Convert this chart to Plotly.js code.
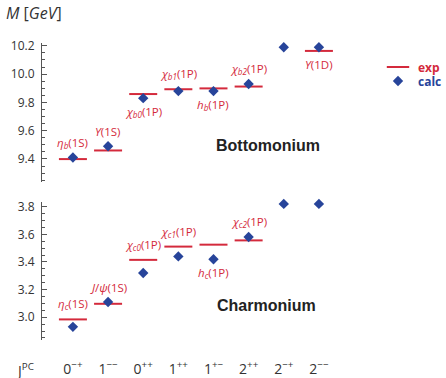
<!DOCTYPE html>
<html><head><meta charset="utf-8">
<script src="https://cdn.plot.ly/plotly-3.0.1.min.js"></script>
<style>html,body{margin:0;padding:0;background:#fff}</style></head>
<body><div id="chart" style="width:446px;height:378px"></div>
<script>
// ---- data ----
const jpcLabels = ["0<sup>−+</sup>","1<sup>−−</sup>","0<sup>++</sup>","1<sup>++</sup>","1<sup>+−</sup>","2<sup>++</sup>","2<sup>−+</sup>","2<sup>−−</sup>"];
const bottomExp  = [9.399, 9.460, 9.859, 9.893, 9.899, 9.912, null, 10.164];
const bottomCalc = [9.41, 9.49, 9.83, 9.88, 9.88, 9.93, 10.19, 10.19];
const bottomNames = ["<i>η<sub>b</sub></i>(1S)","<i>Υ</i>(1S)","<i>χ<sub>b0</sub></i>(1P)","<i>χ<sub>b1</sub></i>(1P)","<i>h<sub>b</sub></i>(1P)","<i>χ<sub>b2</sub></i>(1P)",null,"<i>Υ</i>(1D)"];
const bottomSide = ["above","above","below","above","below","above",null,"below"];
const charmExp  = [2.984, 3.097, 3.415, 3.511, 3.525, 3.556, null, null];
const charmCalc = [2.93, 3.11, 3.32, 3.44, 3.42, 3.58, 3.82, 3.82];
const charmNames = ["<i>η<sub>c</sub></i>(1S)","<i>J</i>/<i>ψ</i>(1S)","<i>χ<sub>c0</sub></i>(1P)","<i>χ<sub>c1</sub></i>(1P)","<i>h<sub>c</sub></i>(1P)","<i>χ<sub>c2</sub></i>(1P)",null,null];
const charmSide = ["above","above","above","above","below","above",null,null];

// ---- style ----
const RED = "#d42a3c", BLUE = "#27449a";
const FONT = "Open Sans, Noto Sans, sans-serif";
const xIdx = jpcLabels.map((_, i) => i);

function expTrace(vals, ya, show) {
  return {x: xIdx, y: vals, xaxis: "x", yaxis: ya, type: "scatter", mode: "markers",
    name: "<b><span style='color:" + RED + "'>exp</span></b>", showlegend: show, legend: "legend",
    cliponaxis: false,
    marker: {symbol: "line-ew", size: 20, color: RED, line: {color: RED, width: 2}},
    hoverinfo: "skip"};
}
function calcTrace(vals, ya, show) {
  return {x: xIdx, y: vals, xaxis: "x", yaxis: ya, type: "scatter", mode: "markers",
    name: "<b><span style='color:" + BLUE + "'>calc</span></b>", showlegend: show, legend: "legend2",
    cliponaxis: false,
    marker: {symbol: "diamond", size: 8, color: BLUE}, hoverinfo: "skip"};
}

function labelAnns(names, exp, calc, side, yref) {
  const out = [];
  names.forEach((n, i) => {
    if (!n) return;
    const vals = [exp[i], calc[i]].filter(v => v != null);
    const up = side[i] === "above";
    out.push({x: i, y: up ? Math.max(...vals) : Math.min(...vals), xref: "x", yref: yref,
      text: n, showarrow: false, xanchor: "center", yanchor: up ? "bottom" : "top",
      yshift: up ? 5 : -4, font: {family: FONT, size: 11.5, color: RED}});
  });
  return out;
}

const data = [expTrace(bottomExp, "y", true), calcTrace(bottomCalc, "y", true),
              expTrace(charmExp, "y2", false), calcTrace(charmCalc, "y2", false)];

const yCommon = {anchor: "x", showline: true, linecolor: "#555", linewidth: 1,
  ticks: "inside", ticklen: 5, tickcolor: "#555", showgrid: false, zeroline: false,
  ticklabelstandoff: 4,
  tickformat: ".1f", tickfont: {family: FONT, size: 12, color: "#333"},
  minor: {dtick: 0.05, ticks: "inside", ticklen: 2.5, tickcolor: "#555", showgrid: false}};

const legBase = {xanchor: "left", yanchor: "middle", bgcolor: "rgba(0,0,0,0)",
  font: {family: FONT, size: 12}, tracegroupgap: 0};

const layout = {
  width: 446, height: 378, margin: {l: 0, r: 0, t: 0, b: 0, autoexpand: false},
  paper_bgcolor: "#fff", plot_bgcolor: "rgba(0,0,0,0)",
  xaxis: {domain: [42/446, 340/446], range: [-0.88, 7.6], anchor: "free", position: 0.05,
    showline: false, ticks: "", showgrid: false, zeroline: false,
    tickmode: "array", tickvals: xIdx, ticktext: jpcLabels,
    tickfont: {family: FONT, size: 14, color: "#333"}},
  yaxis: Object.assign({}, yCommon, {domain: [1 - 182/378, 1 - 43/378], range: [9.237, 10.22], dtick: 0.2, tick0: 9.4}),
  yaxis2: Object.assign({}, yCommon, {domain: [1 - 340/378, 1 - 201.7/378], range: [2.835, 3.836], dtick: 0.2, tick0: 3.0}),
  showlegend: true,
  legend: Object.assign({}, legBase, {x: 378/446, y: 1 - 67/378}),
  legend2: Object.assign({}, legBase, {x: 378/446, y: 1 - 81/378}),
  annotations: [
    {x: 4/446, y: 1 - 13/378, xref: "paper", yref: "paper", xanchor: "left", yanchor: "middle",
     text: "<i>M</i> [<i>GeV</i>]", showarrow: false, font: {family: FONT, size: 16, color: "#333"}},
    {x: 14/446, y: 1 - 370/378, xref: "paper", yref: "paper", xanchor: "left", yanchor: "middle",
     text: "J<sup>PC</sup>", showarrow: false, font: {family: FONT, size: 14, color: "#333"}},
    {x: 268/446, y: 1 - 145/378, xref: "paper", yref: "paper", xanchor: "center", yanchor: "middle",
     text: "<b>Bottomonium</b>", showarrow: false, font: {family: "Liberation Sans, Arial, sans-serif", size: 16, color: "#222"}},
    {x: 266/446, y: 1 - 305/378, xref: "paper", yref: "paper", xanchor: "center", yanchor: "middle",
     text: "<b>Charmonium</b>", showarrow: false, font: {family: "Liberation Sans, Arial, sans-serif", size: 16, color: "#222"}}
  ].concat(labelAnns(bottomNames, bottomExp, bottomCalc, bottomSide, "y"),
           labelAnns(charmNames, charmExp, charmCalc, charmSide, "y2"))
};

Plotly.newPlot("chart", data, layout, {staticPlot: true, displayModeBar: false});
</script></body></html>
